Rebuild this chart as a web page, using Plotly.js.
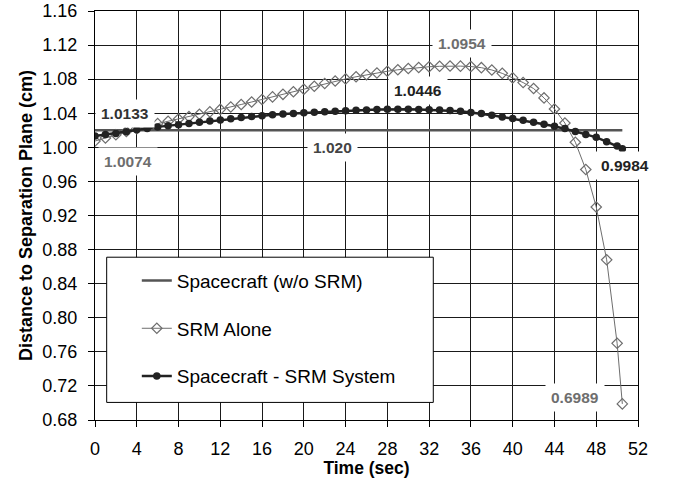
<!DOCTYPE html>
<html>
<head>
<meta charset="utf-8">
<script src="https://cdn.plot.ly/plotly-3.0.1.min.js"></script>
<style>html,body{margin:0;padding:0;background:#fff;}#chart{width:679px;height:478px;}</style>
</head>
<body>
<div id="chart"></div>
<script>
// ---- data ----
const timeSec = [0,1,2,3,4,5,6,7,8,9,10,11,12,13,14,15,16,17,18,19,20,21,22,23,24,25,26,27,28,29,30,31,32,33,34,35,36,37,38,39,40,41,42,43,44,45,46,47,48,49,50,50.5];
const spacecraftOnly = timeSec.map(() => 1.020);
const srmAlone = [1.0074,1.0110,1.0148,1.0185,1.0220,1.0250,1.0278,1.0305,1.0332,1.0360,1.0388,1.0416,1.0445,1.0474,1.0503,1.0532,1.0562,1.0592,1.0622,1.0652,1.0682,1.0717,1.0750,1.0778,1.0803,1.0828,1.0852,1.0873,1.0893,1.0910,1.0925,1.0937,1.0946,1.0951,1.0954,1.0953,1.0948,1.0935,1.0908,1.0868,1.0815,1.0760,1.0690,1.0580,1.0450,1.0285,1.0060,0.9740,0.9300,0.8680,0.7700,0.6989];
const scSrmSystem = [1.0133,1.0150,1.0163,1.0182,1.0205,1.0222,1.0240,1.0253,1.0266,1.0280,1.0295,1.0308,1.0322,1.0336,1.0349,1.0361,1.0372,1.0382,1.0391,1.0398,1.0405,1.0412,1.0418,1.0424,1.0429,1.0434,1.0439,1.0443,1.0446,1.0446,1.0446,1.0444,1.0441,1.0437,1.0432,1.0423,1.0410,1.0396,1.0377,1.0357,1.0337,1.0318,1.0295,1.0271,1.0248,1.0220,1.0185,1.0152,1.0117,1.0066,1.0016,0.9984];
const seriesNames = ["Spacecraft (w/o SRM)", "SRM Alone", "Spacecraft - SRM System"];
const xTicks = [0,4,8,12,16,20,24,28,32,36,40,44,48,52];
const yTicks = [0.68,0.72,0.76,0.80,0.84,0.88,0.92,0.96,1.00,1.04,1.08,1.12,1.16];
const labelTexts = ["1.0133","1.0074","1.020","1.0446","1.0954","0.9984","0.6989"];

const FONT = "Arial, 'Liberation Sans', sans-serif";

const traces = [
  {x: timeSec, y: spacecraftOnly, name: seriesNames[0], mode: "lines",
   line: {color: "#555555", width: 2.5}, legendgroup: "a"},
  {x: timeSec, y: srmAlone, name: seriesNames[1], mode: "lines+markers",
   line: {color: "#6e6e6e", width: 1},
   marker: {symbol: "diamond-open", size: 8, color: "#6e6e6e", line: {width: 1.2, color: "#6e6e6e"}},
   legendgroup: "b"},
  {x: timeSec, y: scSrmSystem, name: seriesNames[2], mode: "lines+markers",
   line: {color: "#222222", width: 2.5},
   marker: {symbol: "circle", size: 7.5, color: "#222222"}, legendgroup: "c"}
];

function lab(i, x, y, color){
  return {x: x, y: y, xref: "x", yref: "y", text: "<b>" + labelTexts[i] + "</b>", showarrow: false,
    bgcolor: "#ffffff", borderpad: 5, font: {family: FONT, size: 15.5, color: color}};
}

const layout = {
  width: 679, height: 478,
  margin: {l: 95, r: 41, t: 11, b: 58},
  paper_bgcolor: "#ffffff", plot_bgcolor: "#ffffff",
  font: {family: FONT, color: "#000"},
  showlegend: true,
  legend: {x: 0.077, y: 0.387, xanchor: "left", yanchor: "top", bgcolor: "rgba(0,0,0,0)",
    borderwidth: 0, font: {family: FONT, size: 19, color: "#000"}, traceorder: "grouped", tracegroupgap: 20},
  xaxis: {range: [0, 52], tickvals: xTicks, ticktext: xTicks.map(String),
    showgrid: true, gridcolor: "#1a1a1a", gridwidth: 1,
    showline: true, linecolor: "#000", linewidth: 1, mirror: true,
    ticks: "outside", ticklen: 6, tickcolor: "#000", ticklabelstandoff: 6,
    tickfont: {family: FONT, size: 18, color: "#000"}, zeroline: false,
    title: {text: "<b>Time (sec)</b>", font: {family: FONT, size: 17.5, color: "#000"}, standoff: 1}},
  yaxis: {range: [0.68, 1.16], tickvals: yTicks, ticktext: yTicks.map(v => v.toFixed(2)),
    showgrid: true, gridcolor: "#1a1a1a", gridwidth: 1,
    showline: true, linecolor: "#000", linewidth: 1, mirror: true,
    ticks: "outside", ticklen: 6, tickcolor: "#000", ticklabelstandoff: 7,
    tickfont: {family: FONT, size: 18, color: "#000"}, zeroline: false,
    title: {text: "<b>Distance to Separation Plane (cm)</b>", font: {family: FONT, size: 18, color: "#000"}, standoff: 5}},
  shapes: [
    {type: "rect", xref: "paper", yref: "paper", x0: 0.0215, x1: 0.623, y0: 0.043, y1: 0.398,
     fillcolor: "#ffffff", line: {color: "#000", width: 1}, layer: "above"}
  ],
  annotations: [
    lab(0, 2.84, 1.0402, "#333333"),
    lab(1, 3.15, 0.9833, "#6e6e6e"),
    lab(2, 22.78, 1.0002, "#444444"),
    lab(3, 30.9, 1.0665, "#222222"),
    lab(4, 35.12, 1.1218, "#6e6e6e"),
    lab(5, 50.78, 0.9786, "#222222"),
    lab(6, 45.95, 0.7061, "#6e6e6e")
  ]
};

Plotly.newPlot("chart", traces, layout, {displayModeBar: false, staticPlot: true});
</script>
</body>
</html>
